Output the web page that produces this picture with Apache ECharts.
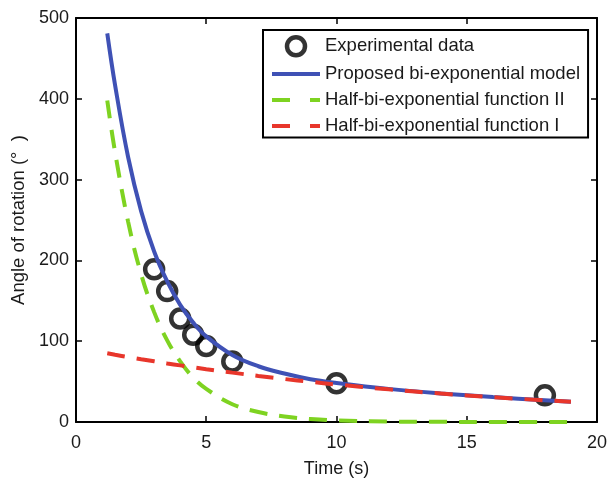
<!DOCTYPE html>
<html>
<head>
<meta charset="utf-8">
<script src="https://cdn.jsdelivr.net/npm/echarts@6/dist/echarts.min.js"></script>
<style>html,body{margin:0;padding:0;background:#fff}#c{width:610px;height:483px}</style>
</head>
<body>
<div id="c"></div>
<script>
// Experimental data
const expTime = [3, 3.5, 4, 4.5, 5, 6, 10, 18];
const expAngle = [189, 162, 128, 108, 94, 75, 48, 33];
// Model curves
const curveTime = [1.2, 1.5, 2, 2.5, 3, 3.5, 4, 4.5, 5, 6, 7, 8, 9, 10, 12, 14, 16, 19];
const modelBi   = [481, 417, 328, 261, 211, 174, 145, 123, 106, 83, 69, 60, 53, 48.4, 41, 35.4, 30.8, 25];
const halfII    = [398, 334, 248, 183, 136, 101, 75, 55, 41, 22, 12.3, 6.8, 3.7, 2.0, 0.6, 0.2, 0.05, 0];
const halfI     = [85, 83.2, 80.4, 77.7, 75.1, 72.5, 70.1, 67.7, 65.4, 61.1, 57.0, 53.2, 49.7, 46.4, 40.4, 35.2, 30.7, 25];
const xTicks = [0, 5, 10, 15, 20];
const yTicks = [0, 100, 200, 300, 400, 500];
const names = ['Experimental data', 'Proposed bi-exponential model', 'Half-bi-exponential function II', 'Half-bi-exponential function I'];

const pair = (xs, ys) => xs.map((x, i) => [x, ys[i]]);
const FONT = 'Liberation Sans, Arial, sans-serif';
const BLUE = '#3f51b5', GREEN = '#7ed321', RED = '#e8362b';
const chart = echarts.init(document.getElementById('c'));
const baseAxis = {
  type: 'value', splitLine: {show: false},
  axisLine: {show: true, onZero: false, lineStyle: {color: '#000', width: 2}},
  axisTick: {show: true, inside: true, length: 6, lineStyle: {color: '#000', width: 1.5}},
  axisLabel: {color: '#1a1a1a', fontSize: 18, fontFamily: FONT}
};
chart.setOption({
  animation: false,
  backgroundColor: '#fff',
  grid: {left: 76, right: 12, top: 18, bottom: 58},
  xAxis: [
    Object.assign({}, baseAxis, {min: xTicks[0], max: xTicks[xTicks.length-1], interval: 5, position: 'bottom',
      name: 'Time (s)', nameLocation: 'middle', nameGap: 38,
      nameTextStyle: {color: '#1a1a1a', fontSize: 18, fontFamily: FONT},
      axisLabel: Object.assign({}, baseAxis.axisLabel, {margin: 12})}),
    Object.assign({}, baseAxis, {min: xTicks[0], max: xTicks[xTicks.length-1], interval: 5, position: 'top',
      axisLabel: {show: false}})
  ],
  yAxis: [
    Object.assign({}, baseAxis, {min: yTicks[0], max: yTicks[yTicks.length-1], interval: 100, position: 'left',
      name: 'Angle of rotation (°  )', nameLocation: 'middle', nameGap: 48,
      nameTextStyle: {color: '#1a1a1a', fontSize: 18.5, fontFamily: FONT},
      axisLabel: Object.assign({}, baseAxis.axisLabel, {margin: 7})}),
    Object.assign({}, baseAxis, {min: yTicks[0], max: yTicks[yTicks.length-1], interval: 100, position: 'right',
      axisLabel: {show: false}})
  ],
  legend: {
    orient: 'vertical', left: 263, top: 30,
    padding: [5, 8, 2, 7], itemGap: 7, itemWidth: 48, itemHeight: 18,
    borderColor: '#000', borderWidth: 2, backgroundColor: '#fff',
    textStyle: {color: '#1a1a1a', fontSize: 18.5, fontFamily: FONT},
    data: [
      {name: names[0], icon: 'circle', itemStyle: {color: 'rgba(255,255,255,0)', borderColor: '#000', borderWidth: 4.5}},
      {name: names[1], itemStyle: {opacity: 0}, lineStyle: {color: BLUE, width: 4, type: 'solid'}},
      {name: names[2], itemStyle: {opacity: 0}, lineStyle: {color: GREEN, width: 4, type: [18, 20]}},
      {name: names[3], itemStyle: {opacity: 0}, lineStyle: {color: RED, width: 4, type: [18, 20]}}
    ]
  },
  series: [
    {name: names[0], type: 'scatter', data: pair(expTime, expAngle), symbol: 'circle', symbolSize: 18,
      itemStyle: {color: 'rgba(255,255,255,0)', borderColor: '#000', borderWidth: 4.5}, z: 2},
    {name: names[1], type: 'line', data: pair(curveTime, modelBi), smooth: 0.4, symbol: 'none',
      lineStyle: {color: BLUE, width: 4}, itemStyle: {color: BLUE}, z: 3},
    {name: names[2], type: 'line', data: pair(curveTime, halfII), smooth: 0.4, symbol: 'none',
      lineStyle: {color: GREEN, width: 4, type: [18, 12]}, itemStyle: {color: GREEN}, z: 4},
    {name: names[3], type: 'line', data: pair(curveTime, halfI), smooth: 0.4, symbol: 'none',
      lineStyle: {color: RED, width: 4, type: [18, 12]}, itemStyle: {color: RED}, z: 5}
  ]
});
</script>
</body>
</html>
